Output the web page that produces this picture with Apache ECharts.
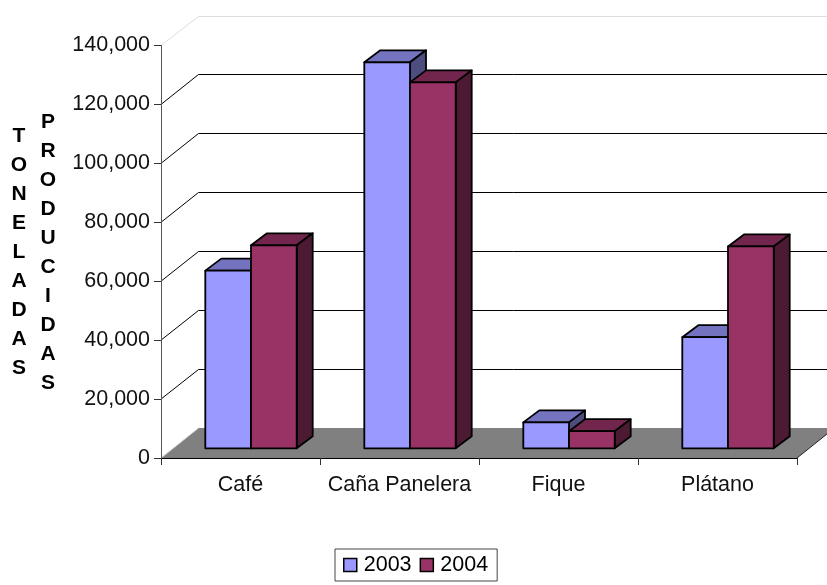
<!DOCTYPE html>
<html>
<head>
<meta charset="utf-8">
<script src="https://cdn.jsdelivr.net/npm/echarts@6/dist/echarts.min.js"></script>
<style>html,body{margin:0;padding:0;background:#fff}#c{width:827px;height:585px}</style>
</head>
<body>
<div id="c"></div>
<script>
var categories = ['Café', 'Caña Panelera', 'Fique', 'Plátano'];
var values2003 = [60300, 131000, 8800, 37700];
var values2004 = [68900, 124200, 5800, 68500];
var yTicks = [0, 20000, 40000, 60000, 80000, 100000, 120000, 140000];
var yTitle1 = 'TONELADAS';
var yTitle2 = 'PRODUCIDAS';

var FONT = '"Liberation Sans", Arial, sans-serif';
var WALL = [37.5, -30];
var BASE = [0, -9.7];
var BAR_D = [16, -12];
var BAND = 159;

function wallItem(params, api) {
  var v = api.value(0), cs = params.coordSys;
  var y = api.coord([0, v])[1];
  var x0 = cs.x, bx = x0 + WALL[0], by = Math.round(y + WALL[1]) + 0.5;
  var faint = v === 0 || v === yTicks[yTicks.length - 1];
  var style = { stroke: faint ? '#dddddd' : '#000000', lineWidth: 1, fill: null };
  return { type: 'group', silent: true, children: [
    { type: 'line', shape: { x1: x0, y1: y, x2: bx, y2: by }, style: style },
    { type: 'line', shape: { x1: bx, y1: by, x2: cs.x + cs.width + WALL[0], y2: by }, style: style }
  ]};
}
function floorItem(params) {
  var cs = params.coordSys, y0 = cs.y + cs.height, x0 = cs.x, x1 = cs.x + cs.width;
  return { type: 'group', silent: true, children: [
    { type: 'polygon', shape: { points: [[x0, y0], [x1, y0], [x1 + WALL[0], y0 + WALL[1]], [x0 + WALL[0], y0 + WALL[1]]] },
      style: { fill: '#808080', stroke: null } },
    { type: 'line', shape: { x1: x1, y1: y0, x2: x1 + WALL[0], y2: y0 + WALL[1] }, style: { stroke: '#222222', lineWidth: 1 } },
    { type: 'line', shape: { x1: x0, y1: y0, x2: x0 + WALL[0], y2: y0 + WALL[1] }, style: { stroke: '#dddddd', lineWidth: 1 } }
  ]};
}
function barRenderer(side, front, top, right) {
  return function (params, api) {
    var i = api.value(0), v = api.value(1);
    var band = api.size([1, 0])[0];
    var c = api.coord([i, v]), c0 = api.coord([i, 0]);
    var unit = band / BAND;
    var xl = c[0] + (side === 0 ? -35.2 : 10.5) * unit, w = 45.7 * unit;
    var yt = c[1] + BASE[1], yb = c0[1] + BASE[1];
    var xr = xl + w, dx = BAR_D[0], dy = BAR_D[1];
    var line = { stroke: '#000000', lineWidth: 1.8, lineJoin: 'round' };
    return { type: 'group', children: [
      { type: 'polygon', shape: { points: [[xl, yt], [xr, yt], [xr + dx, yt + dy], [xl + dx, yt + dy]] },
        style: Object.assign({ fill: top }, line) },
      { type: 'polygon', shape: { points: [[xr, yt], [xr + dx, yt + dy], [xr + dx, yb + dy], [xr, yb]] },
        style: Object.assign({ fill: right }, line) },
      { type: 'rect', shape: { x: xl, y: yt, width: w, height: yb - yt },
        style: Object.assign({ fill: front }, line) }
    ]};
  };
}
function pairs(arr) { return arr.map(function (v, i) { return [i, v]; }); }
function vertical(s) { return s.split('').join('\n'); }

var chart = echarts.init(document.getElementById('c'), null, { renderer: 'canvas' });
chart.setOption({
  animation: false,
  backgroundColor: '#ffffff',
  title: [
    { text: vertical(yTitle1), left: 19, top: 122, textAlign: 'center', padding: 0,
      textStyle: { fontFamily: FONT, fontWeight: 'bold', fontSize: 21, lineHeight: 29, color: '#000' } },
    { text: vertical(yTitle2), left: 48, top: 108, textAlign: 'center', padding: 0,
      textStyle: { fontFamily: FONT, fontWeight: 'bold', fontSize: 21, lineHeight: 29, color: '#000' } }
  ],
  grid: { left: 161, right: 30, top: 45.5, bottom: 127, containLabel: false },
  legend: {
    left: 335, top: 549, padding: [5, 9, 5, 8], itemGap: 8,
    orient: 'horizontal', icon: 'rect', itemWidth: 13, itemHeight: 13,
    borderColor: '#444444', borderWidth: 1, backgroundColor: '#fff',
    textStyle: { fontFamily: FONT, fontSize: 21.5, color: '#000', padding: [0, 0, 0, 2] },
    data: [
      { name: '2003', itemStyle: { color: '#9999FF', borderColor: '#000', borderWidth: 1.5 } },
      { name: '2004', itemStyle: { color: '#993366', borderColor: '#000', borderWidth: 1.5 } }
    ]
  },
  xAxis: {
    type: 'category', data: categories, z: 6,
    axisLine: { show: true, onZero: false, lineStyle: { color: '#000', width: 1 } },
    axisTick: { show: true, length: 7, alignWithLabel: false, interval: 0, lineStyle: { color: '#333' } },
    axisLabel: { fontFamily: FONT, fontSize: 21.5, color: '#111', margin: 16, interval: 0, hideOverlap: false },
    splitLine: { show: false }
  },
  yAxis: {
    type: 'value', min: 0, max: 140000, interval: 20000, z: 6,
    axisLine: { show: true, lineStyle: { color: '#555', width: 1 } },
    axisTick: { show: true, length: 7, lineStyle: { color: '#333' } },
    axisLabel: { fontFamily: FONT, fontSize: 21.5, color: '#111', margin: 11,
      formatter: function (v) { return v.toLocaleString('en-US'); } },
    splitLine: { show: false }
  },
  series: [
    { type: 'custom', name: 'walls', z: 1, clip: false, data: yTicks.map(function (v) { return [v]; }),
      encode: { y: 0 }, renderItem: wallItem, silent: true },
    { type: 'custom', name: 'floor', z: 2, clip: false, data: [[0]], encode: { y: 0 }, renderItem: floorItem, silent: true },
    { type: 'custom', name: '2003', z: 3, clip: false, data: pairs(values2003), encode: { x: 0, y: 1 },
      itemStyle: { color: '#9999FF' }, renderItem: barRenderer(0, '#9999FF', '#7373BF', '#4D4D80') },
    { type: 'custom', name: '2004', z: 4, clip: false, data: pairs(values2004), encode: { x: 0, y: 1 },
      itemStyle: { color: '#993366' }, renderItem: barRenderer(1, '#993366', '#73264D', '#4D1A33') }
  ]
});
</script>
</body>
</html>
